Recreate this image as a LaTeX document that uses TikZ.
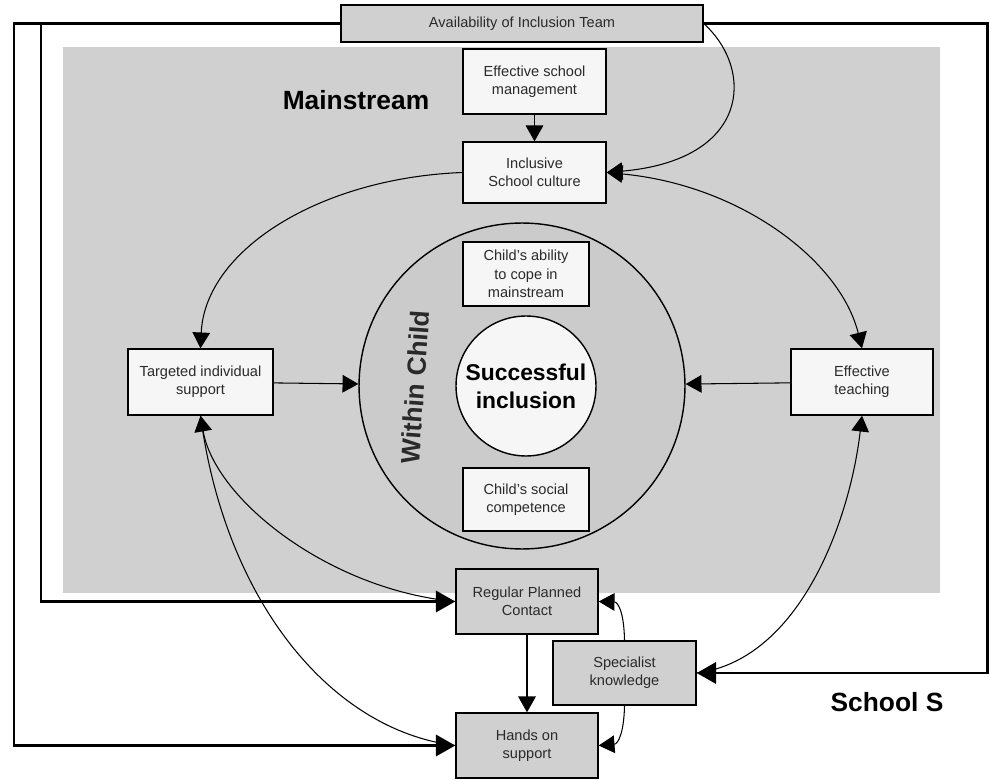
\documentclass[tikz,border=0pt]{standalone}
\usepackage{fontspec}
\setmainfont{Liberation Sans}
\usetikzlibrary{arrows.meta,calc}
\definecolor{regiongray}{HTML}{D0D0D0}
\definecolor{ringgray}{HTML}{CBCBCB}
\definecolor{boxwhite}{HTML}{F6F6F6}
\definecolor{txt}{HTML}{2A2A2A}
\begin{document}
\begin{tikzpicture}[x=0.02cm,y=-0.02cm,
  wbox/.style={draw, line width=0.8pt, fill=boxwhite, align=center, text=txt,
    font=\fontsize{8.3}{10.4}\selectfont, inner sep=1pt},
  gbox/.style={wbox, fill=regiongray},
  conn/.style={line width=0.6pt},
  tip/.style={-{Triangle[length=9pt,width=10pt]}},
  backtip/.style={{Triangle[length=9pt,width=10pt]}-},
  twotip/.style={{Triangle[length=9pt,width=10pt]}-{Triangle[length=9pt,width=10pt]}},
  heavy/.style={line width=1.7pt, -{Triangle[length=11pt,width=12pt]}},
  bigtitle/.style={font=\fontsize{15}{18}\selectfont\bfseries, text=black}
]
\useasboundingbox (0,0) rectangle (990,780);

% Mainstream region
\fill[regiongray] (63,47) rectangle (940,593);
\node[bigtitle] (ms) at (356,100) {Mainstream};
\node[bigtitle] (ss) at (887,702) {School S};

% circles
\node[circle, draw, line width=0.8pt, fill=ringgray, minimum size=6.52cm, inner sep=0pt] (wc) at (522,386) {};
\node[circle, draw, line width=0.8pt, fill=boxwhite, minimum size=2.8cm, inner sep=0pt,
  align=center, font=\fontsize{13}{16}\selectfont\bfseries] (si) at (526,386) {Successful\\inclusion};
\node[rotate=86, font=\fontsize{15}{18}\selectfont\bfseries, text=txt, inner sep=0pt] (wct) at (415,387) {Within Child};

% boxes
\node[gbox, minimum width=7.24cm, minimum height=0.74cm] (avail) at (522,23.5) {Availability of Inclusion Team};
\node[wbox, minimum width=2.86cm, minimum height=1.3cm] (esm) at (534.5,81.5) {Effective school\\management};
\node[wbox, minimum width=2.86cm, minimum height=1.22cm] (isc) at (534.5,172.5) {Inclusive\\School culture};
\node[wbox, minimum width=2.52cm, minimum height=1.28cm] (cab) at (526,274) {Child's ability\\to cope in\\mainstream};
\node[wbox, minimum width=2.52cm, minimum height=1.26cm] (csc) at (526,499.5) {Child's social\\competence};
\node[wbox, minimum width=2.9cm, minimum height=1.32cm] (tis) at (200.5,382) {Targeted individual\\support};
\node[wbox, minimum width=2.84cm, minimum height=1.32cm] (et) at (862,382) {Effective\\teaching};
\node[gbox, minimum width=2.84cm, minimum height=1.3cm] (rpc) at (527,601.5) {Regular Planned\\Contact};
\node[gbox, minimum width=2.84cm, minimum height=1.3cm] (hos) at (527,745.5) {Hands on\\support};
\node[gbox, minimum width=2.86cm, minimum height=1.28cm] (sk) at (624.5,673) {Specialist\\knowledge};

% heavy outer lines
\coordinate (lb) at (14,745.5);
\coordinate (it) at (41,23.5);
\coordinate (ib) at (41,601.5);
\coordinate (rb) at (987,673);
\draw[heavy] (avail.west) -| (lb) -- (hos.west);
\draw[heavy] (it) -- (ib) -- (rpc.west);
\draw[heavy] (avail.east) -| (rb) -- (sk.east);

% connectors
\draw[conn, tip] (esm) -- (isc);
\draw[conn, tip] (avail.east) .. controls (755,70) and (750,160) .. (isc.east);
\draw[conn, twotip] (isc.east) .. controls (740,185) and (840,260) .. (et.north);
\draw[conn, tip] (isc.west) .. controls (320,178) and (205,250) .. (tis.north);
\draw[conn, tip] (tis) -- (wc);
\draw[conn, tip] (et) -- (wc);
\draw[conn, backtip] (tis.south) .. controls (215,500) and (330,590) .. (rpc.west);
\draw[conn] (tis.south) .. controls (225,600) and (330,730) .. (hos.west);
\draw[conn, tip] (rpc) -- (hos);
\draw[conn, tip] (sk.north) .. controls (624,612) and (618,602) .. (rpc.east);
\draw[conn, tip] (sk.south) .. controls (624,733) and (618,744) .. (hos.east);
\draw[conn, backtip] (et.south) .. controls (850,520) and (800,660) .. (sk.east);
\end{tikzpicture}
\end{document}
